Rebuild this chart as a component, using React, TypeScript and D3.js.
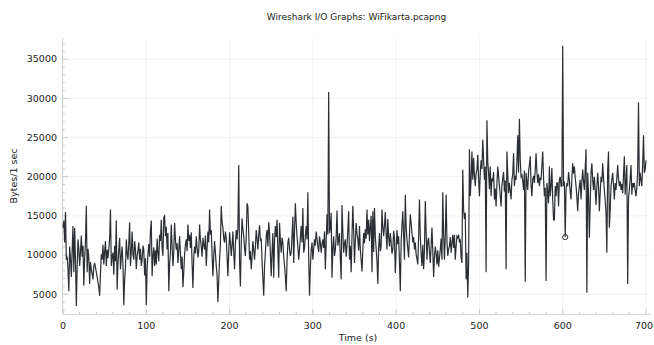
import React from "react";
import * as d3 from "d3";

const title = "Wireshark I/O Graphs: WiFikarta.pcapng";
const xLabel = "Time (s)";
const yLabel = "Bytes/1 sec";
const xTicks = [0, 100, 200, 300, 400, 500, 600, 700];
const yTicks = [5000, 10000, 15000, 20000, 25000, 30000, 35000];
const markedTime = 603;

// Bytes per 1-second interval, t = 0..700
const bytes = [
  13500, 14400, 11600, 15500, 9400, 9800, 8200, 5400, 11100, 9600,
  7200, 10500, 13700, 7800, 13500, 9200, 3500, 8400, 12000, 10800,
  8600, 10400, 12500, 9800, 11200, 6100, 9600, 11800, 16300, 7800,
  10800, 9700, 6300, 9100, 8200, 7600, 6900, 8600, 9000, 8400,
  7800, 7200, 6500, 5900, 4800, 7600, 10100, 9400, 11300, 8800,
  10400, 11800, 8600, 10700, 9600, 10700, 12200, 15800, 8600, 9900,
  10300, 7500, 11200, 9200, 14400, 5600, 9000, 10600, 12200, 8200,
  9800, 11100, 8700, 3600, 6900, 8400, 12000, 10200, 9400, 11500,
  14200, 8600, 10400, 13000, 10100, 9400, 11800, 10700, 8200, 9900,
  10600, 11600, 9400, 10800, 8600, 9400, 11200, 10700, 7400, 9600,
  3600, 8200, 10100, 11400, 9800, 13200, 14400, 7300, 9900, 11000,
  8600, 10600, 8800, 12100, 10300, 9200, 12600, 11800, 14500, 10900,
  9900, 14800, 15000, 12400, 13600, 10700, 12800, 5400, 8800, 10300,
  13900, 11200, 8600, 10300, 14100, 12000, 10700, 11500, 9000, 10600,
  12400, 10200, 8200, 9800, 5900, 7800, 10100, 11300, 12000, 10500,
  13900, 11800, 12600, 10900, 12900, 8900, 5800, 9700, 11100, 10200,
  12400, 11000, 9700, 10500, 13900, 12000, 11100, 9800, 12200, 11300,
  10700, 12500, 8600, 10900, 13000, 11600, 15800, 12600, 13200, 10100,
  7300, 9800, 11800, 10300, 8600, 7400, 4000, 6800, 9400, 11400,
  16300, 14200, 13500, 12100, 11600, 13000, 12200, 9800, 7300, 10400,
  12900, 11600, 9900, 11200, 13000, 10300, 8200, 11400, 13200, 12000,
  13600, 21500, 9200, 6000, 11500, 14700, 13300, 12400, 10800, 9900,
  12300, 16600, 16200, 12800, 9400, 10500, 8200, 9800, 11800, 10600,
  9400, 11000, 13200, 12100, 10700, 12600, 13800, 11900, 12000, 9300,
  6900, 4800, 8600, 10300, 12400, 13200, 11100, 14200, 12800, 10200,
  7300, 10400, 12800, 7100, 11800, 13700, 12300, 14500, 10600, 7100,
  14100, 11900, 10300, 12200, 11600, 9800, 8600, 7300, 5400, 9200,
  11600, 12200, 10700, 9900, 10300, 12600, 14900, 9000, 13000, 16600,
  14100, 12400, 11100, 9400, 10700, 12200, 13700, 11600, 16000, 10300,
  10900, 12500, 13700, 12000, 18000, 9600, 4800, 8400, 10700, 11600,
  9400, 10800, 12000, 11200, 13000, 12100, 11100, 10400, 12400, 11600,
  10300, 11400, 12000, 10900, 13000, 8200, 11700, 15200, 12600, 30800,
  12800, 13500, 15400, 7100, 10800, 12400, 9900, 10700, 12300, 15700,
  11200, 12000, 12800, 9600, 6900, 16400, 13000, 10300, 11500, 12000,
  9800, 11100, 13300, 15600, 9400, 11200, 7800, 12500, 16300, 13100,
  9000, 11800, 14100, 12700, 12000, 10600, 13700, 10700, 9400, 7900,
  10600, 12800, 11500, 13300, 12100, 15800, 12600, 14500, 11800, 13700,
  15000, 7800, 15600, 10400, 16000, 12400, 10800, 9200, 6300, 11000,
  12800, 10500, 11100, 15800, 13600, 12400, 13800, 15500, 12600, 10700,
  14600, 12300, 11100, 12800, 11600, 10200, 10700, 13100, 12200, 7700,
  10600, 13200, 11400, 12400, 9100, 5400, 11600, 13700, 15600, 12300,
  9400, 17700, 13600, 12000, 10800, 9700, 12600, 15200, 14100, 12800,
  11600, 12300, 10700, 11600, 10100, 9500, 8800, 12400, 17100, 12400,
  10200, 8600, 11300, 8200, 10600, 16900, 12800, 9400, 11800, 12200,
  10400, 9000, 11200, 13500, 10600, 7200, 9800, 11100, 10200, 8800,
  10600, 8500, 9600, 10700, 12100, 9400, 18000, 12600, 9400, 12300,
  17700, 11800, 9900, 10800, 11100, 12300, 10300, 11600, 12600, 10900,
  12600, 9400, 11100, 12400, 12200, 12600, 11600, 12000, 9700, 9000,
  20900, 15800, 14600, 15400, 6900, 10300, 4600, 8800, 23500, 17500,
  19600, 23200, 19600, 22400, 20200, 18800, 20400, 20900, 22800, 19800,
  17500, 20400, 22100, 21000, 24700, 22300, 19600, 21300, 7800, 27200,
  21900, 20500, 18400, 21300, 17500, 19800, 19400, 20600, 17100, 18500,
  16200, 19000, 21300, 20100, 18800, 17600, 16200, 18900, 19800, 20600,
  18100, 19500, 8200, 23200, 20400, 17900, 19200, 18200, 17100, 19600,
  20300, 23000, 18800, 20100, 19600, 21800, 25300, 20500, 27400, 22200,
  20000, 20200, 19400, 18300, 20800, 6600, 20500, 19400, 18300, 20700,
  21500, 22600, 18900, 17500, 19600, 20100, 19200, 20800, 23000, 20600,
  19200, 20300, 18800, 19900, 19600, 21400, 23200, 19800, 17500, 18600,
  6700, 19200, 18100, 16600, 21300, 17500, 18800, 21100, 17100, 14500,
  14500, 18800, 17500, 19200, 19200, 16200, 19600, 20000, 18800, 18800,
  36700, 18800, 19400, 12300, 18400, 19200, 18800, 20600, 19600, 18100,
  17100, 19800, 21700, 20400, 21300, 19900, 18800, 17400, 15600, 17900,
  18800, 19600, 17100, 19300, 20900, 19400, 18300, 21000, 23500, 5200,
  20500, 17800, 12200, 16500, 20500, 21700, 19600, 18300, 20000, 18200,
  16400, 18700, 20500, 18900, 15600, 17900, 20000, 19300, 21700, 19800,
  18300, 17000, 15400, 10300, 20900, 23200, 13500, 15800, 18800, 19600,
  20500, 18900, 17100, 19200, 18300, 19800, 21500, 19700, 18800, 19400,
  18300, 19100, 17900, 20200, 22600, 17700, 19600, 21500, 6300, 17200,
  18300, 19800, 21500, 17700, 19200, 18800, 19200, 18200, 17500, 18600,
  20700, 29500, 18800, 20500, 19600, 18800, 21600, 25300, 20500, 20900,
  22100,
];

const W = 654;
const H = 345;
const FONT = "'DejaVu Sans', sans-serif";

export default function App() {
  const left = 63;
  const right = 650;
  const top = 38;
  const bottom = 314;

  const x = d3.scaleLinear().domain([0, 700]).range([left, 646]);
  const y = d3.scaleLinear().domain([2480, 37700]).range([bottom, top]);

  const pts = bytes.map((v, i) => [i, v] as [number, number]);
  const line = d3
    .line<[number, number]>()
    .x((d) => x(d[0]))
    .y((d) => y(d[1]));

  const minorX = d3.range(0, 701, 20).filter((v) => v % 100 !== 0);
  const minorY = d3.range(3000, 37001, 1000).filter((v) => v % 5000 !== 0);

  const grid = "#f2f2f2";
  const axisCol = "#d4d4d4";
  const tickCol = "#c8c8c8";
  const textCol = "#222";

  return (
    <svg
      width={W}
      height={H}
      style={{ position: "absolute", left: 0, top: 0, background: "#fff" }}
    >
      <rect x={0} y={0} width={W} height={H} fill="#fff" />
      <text
        x={(left + right) / 2}
        y={20}
        textAnchor="middle"
        fontFamily={FONT}
        fontSize={9}
        fill={textCol}
      >
        {title}
      </text>

      {/* gridlines */}
      {xTicks.map((t) => (
        <line key={"gx" + t} x1={x(t)} x2={x(t)} y1={top} y2={bottom} stroke={grid} strokeWidth={1} />
      ))}
      {yTicks.map((t) => (
        <line key={"gy" + t} x1={left} x2={right} y1={y(t)} y2={y(t)} stroke={grid} strokeWidth={1} />
      ))}

      {/* axes */}
      <line x1={left - 0.5} x2={left - 0.5} y1={top} y2={bottom} stroke={axisCol} strokeWidth={1} />
      <line x1={left} x2={right} y1={bottom + 0.5} y2={bottom + 0.5} stroke={axisCol} strokeWidth={1} />

      {xTicks.map((t) => (
        <g key={"xt" + t}>
          <line x1={x(t)} x2={x(t)} y1={bottom} y2={bottom - 5} stroke={tickCol} />
          <text
            x={Math.min(x(t), W - 10)}
            y={bottom + 15}
            textAnchor="middle"
            fontFamily={FONT}
            fontSize={9.5}
            fill={textCol}
          >
            {t}
          </text>
        </g>
      ))}
      {minorX.map((t) => (
        <line key={"mx" + t} x1={x(t)} x2={x(t)} y1={bottom} y2={bottom - 2} stroke={tickCol} />
      ))}
      {yTicks.map((t) => (
        <g key={"yt" + t}>
          <line x1={left} x2={left + 5} y1={y(t)} y2={y(t)} stroke={tickCol} />
          <text
            x={left - 6}
            y={y(t)}
            dy="0.35em"
            textAnchor="end"
            fontFamily={FONT}
            fontSize={9.5}
            fill={textCol}
          >
            {t}
          </text>
        </g>
      ))}
      {minorY.map((t) => (
        <line key={"my" + t} x1={left} x2={left + 2} y1={y(t)} y2={y(t)} stroke={tickCol} />
      ))}

      <text
        x={358}
        y={341}
        textAnchor="middle"
        fontFamily={FONT}
        fontSize={9.5}
        fill={textCol}
      >
        {xLabel}
      </text>
      <text
        transform={`translate(17, ${(top + bottom) / 2}) rotate(-90)`}
        textAnchor="middle"
        fontFamily={FONT}
        fontSize={9.5}
        fill={textCol}
      >
        {yLabel}
      </text>

      <path
        d={line(pts) || ""}
        fill="none"
        stroke="#2b2f33"
        strokeWidth={1.2}
        strokeLinejoin="miter"
      />
      <circle
        cx={x(markedTime)}
        cy={y(bytes[markedTime])}
        r={2.6}
        fill="none"
        stroke="#2b2f33"
        strokeWidth={1}
      />
    </svg>
  );
}
